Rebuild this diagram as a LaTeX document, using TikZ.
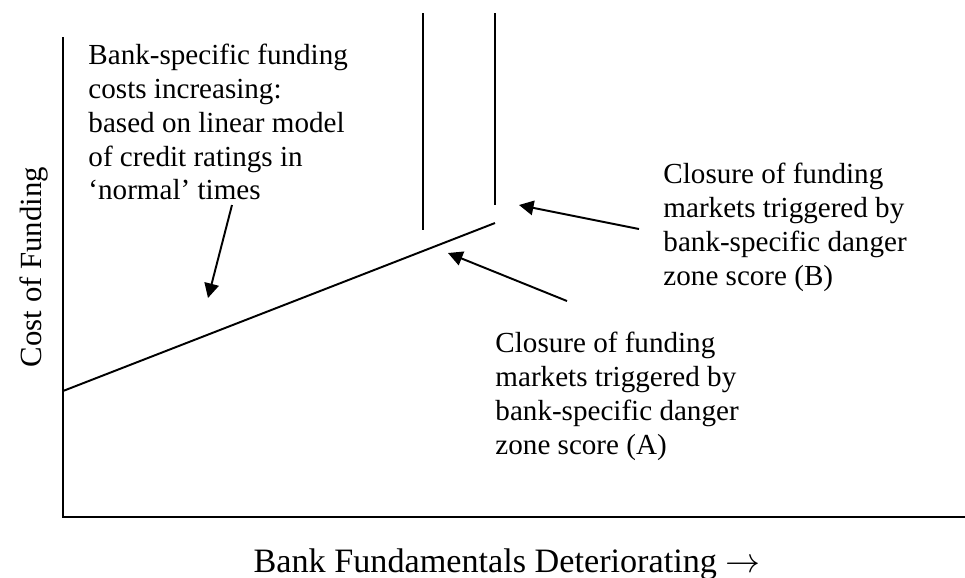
\documentclass[tikz,border=0pt]{standalone}
\usepackage{fontspec}
\setmainfont{Liberation Serif}
\usetikzlibrary{arrows.meta}

\tikzset{
  axis/.style={line width=0.8pt},
  curve/.style={line width=0.8pt},
  pointer/.style={line width=0.8pt, -{Triangle[length=6pt,width=6pt]}},
  note/.style={inner sep=0pt, anchor=north west, align=left,
    font=\fontsize{12}{13.9}\selectfont},
}

\begin{document}
\begin{tikzpicture}[x=0.4124pt, y=-0.4124pt]
  \useasboundingbox (0,0) rectangle (965,577);

  % axes
  \coordinate (ytop) at (63,37);
  \coordinate (origin) at (63,517);
  \coordinate (xend) at (965,517);
  \draw[axis] (ytop) -- (origin) -- (xend);

  \node[rotate=90, anchor=base, font=\fontsize{12.7}{14}\selectfont] (ylabel) at (42,267) {Cost of Funding};
  \node[anchor=base, font=\fontsize{14.1}{16}\selectfont] (xlabel) at (507,572) {Bank Fundamentals Deteriorating $\rightarrow$};

  % funding cost line and the two closure bars
  \coordinate (start) at (63,391);
  \coordinate (kink) at (495,223);
  \draw[curve] (start) -- (kink);

  \coordinate (barAtop) at (423,13);
  \coordinate (barAbot) at (423,230);
  \coordinate (barBtop) at (495,13);
  \coordinate (barBbot) at (495,205);
  \draw[curve] (barAtop) -- (barAbot);
  \draw[curve] (barBtop) -- (barBbot);

  % notes
  \node[note] (linear) at (88,44) {Bank-specific funding\\costs increasing:\\based on linear model\\of credit ratings in\\`normal' times};
  \node[note] (closeB) at (663,163) {Closure of funding\\markets triggered by\\bank-specific danger\\zone score (B)};
  \node[note] (closeA) at (495,332) {Closure of funding\\markets triggered by\\bank-specific danger\\zone score (A)};

  % pointers
  \coordinate (linTail) at (232,205);
  \coordinate (linTip) at (208,298);
  \coordinate (bTail) at (639,229);
  \coordinate (bTip) at (519,205);
  \coordinate (aTail) at (567,301);
  \coordinate (aTip) at (448,253);
  \draw[pointer] (linTail) -- (linTip);
  \draw[pointer] (bTail) -- (bTip);
  \draw[pointer] (aTail) -- (aTip);
\end{tikzpicture}
\end{document}
